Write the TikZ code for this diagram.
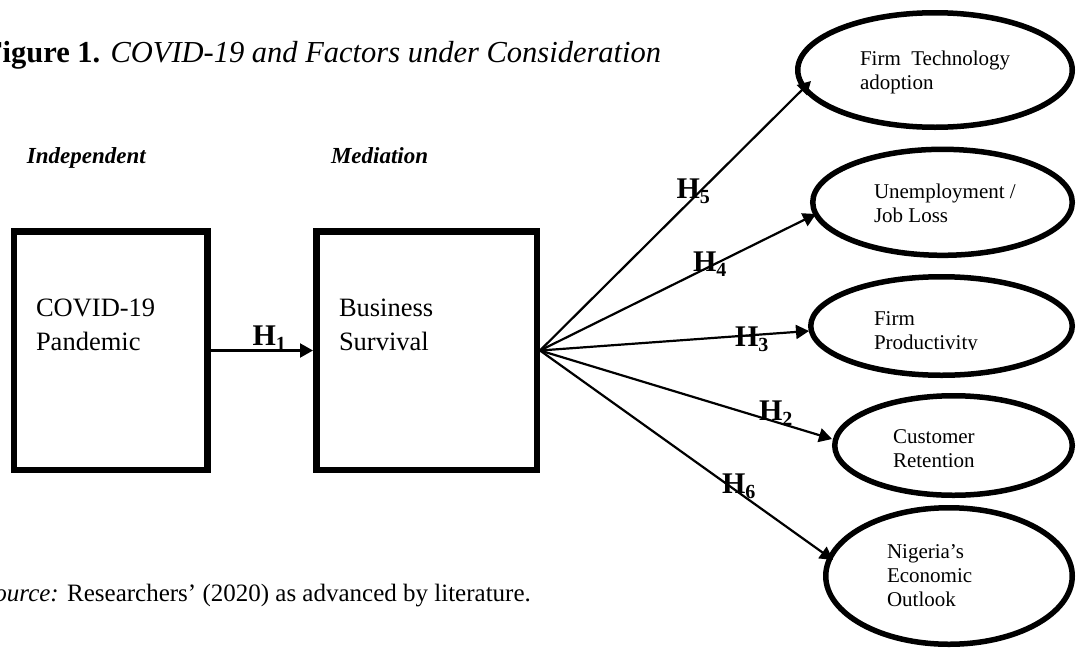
\documentclass[tikz,border=0pt]{standalone}
\usepackage{fontspec}
\setmainfont{Liberation Serif}
\usetikzlibrary{shapes.geometric,arrows.meta}
\newcommand{\fsz}[2]{\fontsize{#1}{#2}\selectfont}
\newcommand{\hlab}[1]{\fsz{30}{30}\bfseries H\raisebox{-5pt}{\fsz{20}{20}\bfseries #1}}
\newcommand{\twoline}[2]{\begin{tabular}[t]{@{}l@{}}#1\\#2\end{tabular}}
\begin{document}
\begin{tikzpicture}[x=1pt,y=-1pt,
  plain/.style={inner sep=0pt, outer sep=0pt, anchor=base west},
  boxst/.style={draw, line width=6.5pt, inner sep=0pt},
  ellst/.style={draw, ellipse, line width=5.5pt, inner sep=0pt},
  arr/.style={line width=2.2pt, -{Triangle[length=13pt,width=14pt]}},
  etext/.style={plain, font=\fsz{21}{24}}]
\useasboundingbox (0,0) rectangle (1076,648);
\fill[white] (0,0) rectangle (1076,648);

% title, headings, source
\node[plain] (title) at (-16,62) {\fsz{30.5}{30.5}\textbf{Figure 1.} \textit{COVID-19 and Factors under Consideration}};
\node[plain] (indep) at (27,163) {\fsz{23}{23}\bfseries\itshape Independent};
\node[plain] (medi) at (331,163) {\fsz{23}{23}\bfseries\itshape Mediation};
\node[plain] (src) at (-18,601) {\fsz{25}{25}\textit{Source:} Researchers’ (2020) as advanced by literature.};

% boxes
\node[boxst, minimum width=193.5pt, minimum height=238.5pt] (b1) at (110.5,350.5) {};
\node[boxst, minimum width=220.5pt, minimum height=238.5pt] (b2) at (426.5,350.5) {};
\node[plain] (b1t) at (36,316.7) {\fsz{26.5}{34}\twoline{COVID-19}{Pandemic}};
\node[plain] (b2t) at (339,316.7) {\fsz{26.5}{34}\twoline{Business}{Survival}};

\draw[arr] (b1.east) -- (b2.west);
\node[plain] (h1) at (252.5,345) {\hlab{1}};

% fan of arrows
\coordinate (fan) at (b2.east);
\coordinate (p5) at (811,81);
\coordinate (p4) at (816,214);
\coordinate (p3) at (809,331);
\coordinate (p2) at (832,439);
\coordinate (p6) at (833,560);
\draw[arr] (fan) -- (p5);
\draw[arr] (fan) -- (p4);
\draw[arr] (fan) -- (p3);
\draw[arr] (fan) -- (p2);
\draw[arr] (fan) -- (p6);

\node[plain] (h5) at (676.5,198.3) {\hlab{5}};
\node[plain] (h4) at (693,271.7) {\hlab{4}};
\node[plain] (h3) at (735,346.7) {\hlab{3}};
\node[plain] (h2) at (759,420) {\hlab{2}};
\node[plain] (h6) at (722,493) {\hlab{6}};

% ellipses
\node[ellst, minimum width=274.5pt, minimum height=114.5pt] (e1) at (935,70) {};
\node[ellst, minimum width=259.5pt, minimum height=106pt] (e2) at (942.5,202.3) {};
\node[ellst, minimum width=261.5pt, minimum height=98.5pt] (e3) at (941.5,326) {};
\node[ellst, minimum width=237.5pt, minimum height=99.5pt] (e4) at (953.5,445.5) {};
\node[ellst, minimum width=246.5pt, minimum height=136.5pt] (e5) at (949,576) {};

\node[etext] (e1t) at (860,65) {\begin{tabular}[t]{@{}l@{}}Firm\ \ Technology\\adoption\end{tabular}};
\node[etext] (e2t) at (874,198.5) {\twoline{Unemployment /}{Job Loss}};
\begin{scope}
\clip (860,300) rectangle (1010,349.5);
\node[etext] (e3t) at (874,325) {\twoline{Firm}{Productivity}};
\end{scope}
\node[etext] (e4t) at (893,443.3) {\twoline{Customer}{Retention}};
\node[etext] (e5t) at (887,558.3) {\begin{tabular}[t]{@{}l@{}}Nigeria’s\\Economic\\Outlook\end{tabular}};
\end{tikzpicture}
\end{document}
